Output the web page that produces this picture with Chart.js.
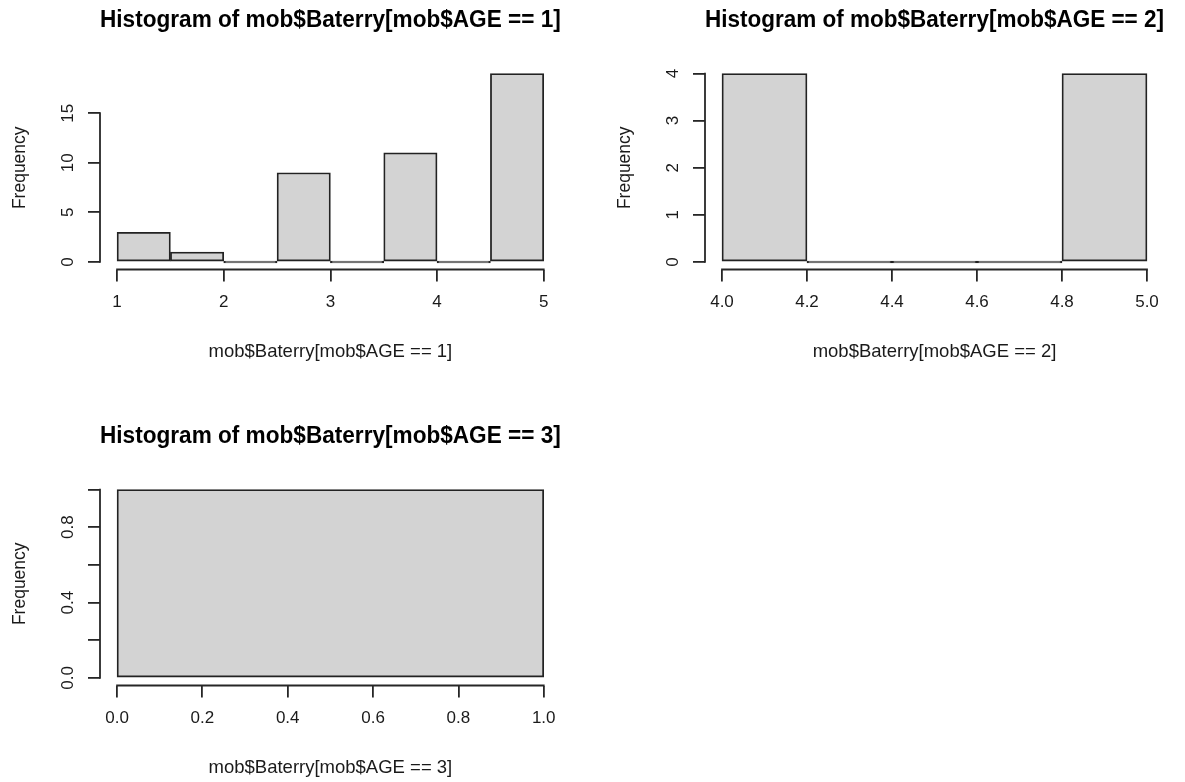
<!DOCTYPE html>
<html>
<head>
<meta charset="utf-8">
<title>Histograms of mob$Baterry by AGE</title>
<script src="https://cdn.jsdelivr.net/npm/chart.js@4.4.1/dist/chart.umd.min.js"></script>
<style>
  html, body { margin: 0; padding: 0; background: #fff; overflow: hidden; }
  body { width: 1185px; height: 782px; position: relative; }
  canvas { position: absolute; }
</style>
</head>
<body>
<canvas id="hist1" width="592" height="391" style="left:0px;top:0px"></canvas>
<canvas id="hist2" width="580" height="391" style="left:605px;top:0px"></canvas>
<canvas id="hist3" width="592" height="391" style="left:0px;top:416px"></canvas>
<script>
// AGE == 1
const breaks1 = [1, 1.5, 2, 2.5, 3, 3.5, 4, 4.5, 5];
const counts1 = [3, 1, 0, 9, 0, 11, 0, 19];
const xTicks1 = [1, 2, 3, 4, 5];
const xLabels1 = ["1", "2", "3", "4", "5"];
const yTicks1 = [0, 5, 10, 15];
const yLabels1 = ["0", "5", "10", "15"];

// AGE == 2
const breaks2 = [4.0, 4.2, 4.4, 4.6, 4.8, 5.0];
const counts2 = [4, 0, 0, 0, 4];
const xTicks2 = [4.0, 4.2, 4.4, 4.6, 4.8, 5.0];
const xLabels2 = ["4.0", "4.2", "4.4", "4.6", "4.8", "5.0"];
const yTicks2 = [0, 1, 2, 3, 4];
const yLabels2 = ["0", "1", "2", "3", "4"];

// AGE == 3
const breaks3 = [0, 1];
const counts3 = [1];
const xTicks3 = [0, 0.2, 0.4, 0.6, 0.8, 1.0];
const xLabels3 = ["0.0", "0.2", "0.4", "0.6", "0.8", "1.0"];
const yTicks3 = [0, 0.2, 0.4, 0.6, 0.8, 1.0];
const yLabels3 = ["0.0", "", "0.4", "", "0.8", ""]; // R drops the crowded ones

const fontFamily = "'Liberation Sans', Arial, sans-serif";
const inkColor = "#1a1a1a";
const axisColor = "#262626";
const axisWidth = 1.8;

// R draws the axis line only from the first tick to the last one
const rAxisLines = {
    id: "rAxisLines",
    afterDraw(chart) {
        const ctx = chart.ctx;
        ctx.save();
        ctx.strokeStyle = axisColor;
        ctx.lineWidth = axisWidth;
        ctx.lineCap = "square";
        ["xr", "y"].forEach(id => {
            const s = chart.scales[id];
            const first = s.getPixelForValue(s.ticks[0].value);
            const last = s.getPixelForValue(s.ticks[s.ticks.length - 1].value);
            ctx.beginPath();
            if (s.isHorizontal()) {
                ctx.moveTo(first, s.top);
                ctx.lineTo(last, s.top);
            } else {
                ctx.moveTo(s.right, first);
                ctx.lineTo(s.right, last);
            }
            ctx.stroke();
        });
        ctx.restore();
    }
};

function makeHist(canvasId, cfg) {
    const mids = cfg.breaks.slice(0, -1).map((b, i) => (b + cfg.breaks[i + 1]) / 2);
    const points = mids.map((m, i) => ({ x: m, y: cfg.counts[i] }));

    // R extends each axis range by 4%
    const lo = cfg.breaks[0];
    const hi = cfg.breaks[cfg.breaks.length - 1];
    const xExt = (hi - lo) * 0.04;
    const yMax = Math.max(...cfg.counts);

    const tickFont = { family: fontFamily, size: 17 };
    const tickGrid = {
        offset: false,
        drawOnChartArea: false,
        drawTicks: true,
        tickLength: 12,
        color: axisColor,
        lineWidth: axisWidth
    };

    return new Chart(document.getElementById(canvasId), {
        type: "bar",
        data: {
            datasets: [{
                data: points,
                xAxisID: "x",
                yAxisID: "y",
                backgroundColor: "#d3d3d3",
                borderColor: "#222222",
                borderWidth: 1.8,
                borderSkipped: false,
                barPercentage: 1,
                categoryPercentage: 1,
                minBarLength: 2
            }]
        },
        options: {
            responsive: false,
            animation: false,
            devicePixelRatio: 1,
            layout: { padding: { left: 0, right: cfg.padRight, top: 0, bottom: 21.5 } },
            plugins: {
                legend: { display: false },
                tooltip: { enabled: false },
                title: {
                    display: true,
                    text: cfg.title,
                    fullSize: false,
                    color: "#000",
                    font: { family: fontFamily, size: 23, weight: "bold" },
                    padding: { top: 7, bottom: 31.4 }
                }
            },
            scales: {
                // bar positions: ticks at the bin breaks, not shown
                x: {
                    type: "linear",
                    display: false,
                    offset: false,
                    min: lo - xExt,
                    max: hi + xExt,
                    grid: { offset: false },
                    afterBuildTicks: s => { s.ticks = cfg.breaks.map(v => ({ value: v })); }
                },
                // the visible R style x axis
                xr: {
                    type: "linear",
                    position: "bottom",
                    offset: false,
                    min: lo - xExt,
                    max: hi + xExt,
                    afterBuildTicks: s => { s.ticks = cfg.xTicks.map(v => ({ value: v })); },
                    afterFit: s => { s.height = 100; },
                    border: { display: false },
                    grid: tickGrid,
                    ticks: {
                        autoSkip: false,
                        minRotation: 0,
                        maxRotation: 0,
                        padding: 11,
                        color: inkColor,
                        font: tickFont,
                        callback: (v, i) => cfg.xLabels[i]
                    },
                    title: {
                        display: true,
                        text: cfg.xTitle,
                        color: inkColor,
                        font: { family: fontFamily, size: 18.5 },
                        padding: { top: 0, bottom: 6.5 }
                    }
                },
                y: {
                    type: "linear",
                    min: -0.04 * yMax,
                    max: 1.04 * yMax,
                    afterBuildTicks: s => { s.ticks = cfg.yTicks.map(v => ({ value: v })); },
                    afterFit: s => { s.width = 100; },
                    border: { display: false },
                    grid: tickGrid,
                    ticks: {
                        autoSkip: false,
                        minRotation: 90,
                        maxRotation: 90,
                        crossAlign: "center",
                        padding: cfg.yPad,
                        color: inkColor,
                        font: tickFont,
                        callback: (v, i) => cfg.yLabels[i]
                    },
                    title: {
                        display: true,
                        text: "Frequency",
                        color: inkColor,
                        font: { family: fontFamily, size: 17.5 },
                        padding: { top: 10, bottom: 0 }
                    }
                }
            }
        },
        plugins: [rAxisLines]
    });
}

makeHist("hist1", {
    title: "Histogram of mob$Baterry[mob$AGE == 1]",
    xTitle: "mob$Baterry[mob$AGE == 1]",
    breaks: breaks1, counts: counts1,
    xTicks: xTicks1, xLabels: xLabels1,
    yTicks: yTicks1, yLabels: yLabels1,
    yPad: 10.5, padRight: 31.2
});

makeHist("hist2", {
    title: "Histogram of mob$Baterry[mob$AGE == 2]",
    xTitle: "mob$Baterry[mob$AGE == 2]",
    breaks: breaks2, counts: counts2,
    xTicks: xTicks2, xLabels: xLabels2,
    yTicks: yTicks2, yLabels: yLabels2,
    yPad: 15.3, padRight: 21
});

makeHist("hist3", {
    title: "Histogram of mob$Baterry[mob$AGE == 3]",
    xTitle: "mob$Baterry[mob$AGE == 3]",
    breaks: breaks3, counts: counts3,
    xTicks: xTicks3, xLabels: xLabels3,
    yTicks: yTicks3, yLabels: yLabels3,
    yPad: 8.2, padRight: 31.2
});
</script>
</body>
</html>
